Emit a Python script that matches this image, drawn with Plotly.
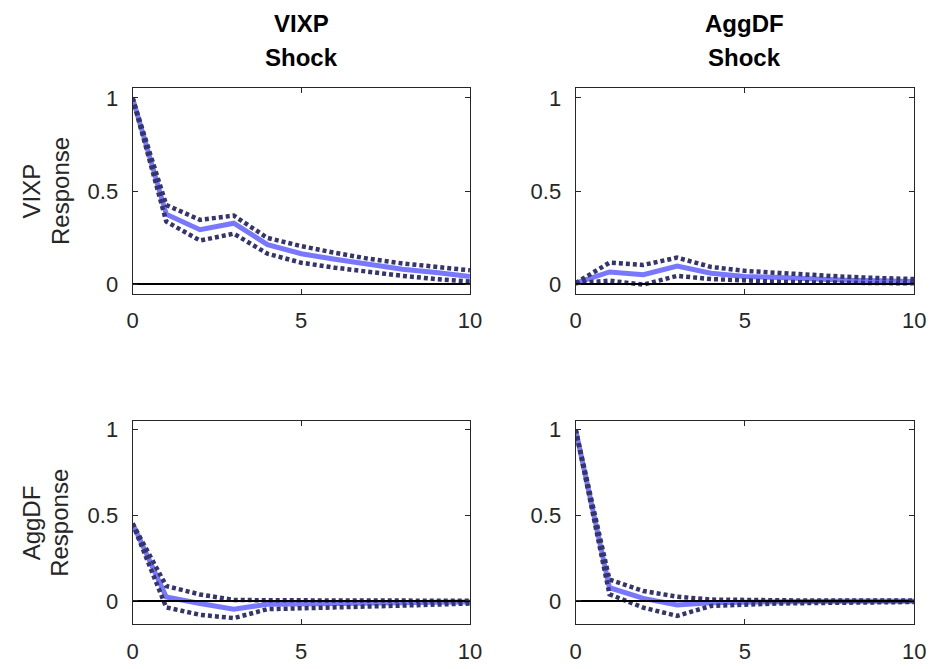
import plotly.graph_objects as go

# Impulse-response horizons
horizon = list(range(11))

shock_names = ["VIXP", "AggDF"]
response_names = ["VIXP", "AggDF"]

# Point estimates and confidence bands, indexed as [response][shock]
irf_vixp_vixp = [1.0, 0.375, 0.292, 0.327, 0.212, 0.163, 0.133, 0.106, 0.080, 0.062, 0.041]
upper_vixp_vixp = [1.0, 0.425, 0.345, 0.368, 0.248, 0.204, 0.168, 0.136, 0.111, 0.092, 0.074]
lower_vixp_vixp = [1.0, 0.336, 0.234, 0.271, 0.163, 0.115, 0.088, 0.065, 0.044, 0.027, 0.014]

irf_vixp_aggdf = [0.005, 0.065, 0.050, 0.097, 0.058, 0.041, 0.035, 0.027, 0.021, 0.018, 0.014]
upper_vixp_aggdf = [0.005, 0.115, 0.103, 0.142, 0.092, 0.071, 0.060, 0.048, 0.039, 0.032, 0.027]
lower_vixp_aggdf = [0.005, 0.018, -0.003, 0.044, 0.027, 0.018, 0.012, 0.009, 0.007, 0.005, 0.004]

irf_aggdf_vixp = [0.452, 0.023, -0.015, -0.048, -0.019, -0.015, -0.013, -0.012, -0.010, -0.008, -0.006]
upper_aggdf_vixp = [0.452, 0.087, 0.038, 0.006, 0.004, 0.003, 0.003, 0.002, 0.002, 0.001, 0.001]
lower_aggdf_vixp = [0.452, -0.038, -0.081, -0.100, -0.048, -0.044, -0.038, -0.033, -0.027, -0.021, -0.015]

irf_aggdf_aggdf = [1.0, 0.077, 0.015, -0.023, -0.010, -0.006, -0.004, -0.003, -0.002, -0.001, -0.001]
upper_aggdf_aggdf = [1.0, 0.125, 0.058, 0.025, 0.008, 0.004, 0.002, 0.002, 0.002, 0.002, 0.002]
lower_aggdf_aggdf = [1.0, 0.039, -0.039, -0.087, -0.029, -0.019, -0.015, -0.012, -0.010, -0.008, -0.006]

panels = [
    [(irf_vixp_vixp, upper_vixp_vixp, lower_vixp_vixp),
     (irf_vixp_aggdf, upper_vixp_aggdf, lower_vixp_aggdf)],
    [(irf_aggdf_vixp, upper_aggdf_vixp, lower_aggdf_vixp),
     (irf_aggdf_aggdf, upper_aggdf_aggdf, lower_aggdf_aggdf)],
]

y_ranges = [[-0.053, 1.053], [-0.137, 1.048]]
x_ticks = [0, 5, 10]
y_ticks = [0, 0.5, 1]
y_tick_text = ["0", "0.5", "1"]

W, H = 941, 669
col_px = [(129, 473), (580.7, 926)]
row_px = [(85, 293), (421.7, 627)]

IRF_COLOR = "#7878ff"
BAND_COLOR = "#34346e"
FONT = "Liberation Sans, Arial, Helvetica, sans-serif"
AXIS_COLOR = "#262626"

fig = go.Figure()
layout = dict(
    width=W, height=H,
    margin=dict(l=0, r=0, t=0, b=0),
    paper_bgcolor="white", plot_bgcolor="white",
    showlegend=False,
    font=dict(family=FONT, size=21, color="#262626"),
)

annotations = []
idx = 0
for r in range(2):
    for c in range(2):
        idx += 1
        xa = "x" if idx == 1 else f"x{idx}"
        ya = "y" if idx == 1 else f"y{idx}"
        irf, up, lo = panels[r][c]
        fig.add_trace(go.Scatter(x=horizon, y=irf, mode="lines", xaxis=xa, yaxis=ya,
                                 line=dict(color=IRF_COLOR, width=5)))
        for band in (up, lo):
            fig.add_trace(go.Scatter(x=horizon, y=band, mode="lines", xaxis=xa, yaxis=ya,
                                     line=dict(color=BAND_COLOR, width=4.5, dash="4px,3px")))
        fig.add_trace(go.Scatter(x=[horizon[0], horizon[-1]], y=[0, 0], mode="lines",
                                 xaxis=xa, yaxis=ya, line=dict(color="black", width=2)))

        x0, x1 = col_px[c]
        t0, t1 = row_px[r]
        axis_common = dict(showline=True, linecolor=AXIS_COLOR, linewidth=1, mirror="ticks",
                           ticks="inside", ticklen=5, tickwidth=1, tickcolor=AXIS_COLOR,
                           showgrid=False, zeroline=False,
                           tickfont=dict(family=FONT, size=22, color="#262626"))
        layout["xaxis" if idx == 1 else f"xaxis{idx}"] = dict(
            domain=[x0 / W, x1 / W], range=[0, 10], tickvals=x_ticks,
            anchor=ya, ticklabelstandoff=7, **axis_common)
        layout["yaxis" if idx == 1 else f"yaxis{idx}"] = dict(
            domain=[1 - t1 / H, 1 - t0 / H], range=y_ranges[r], tickvals=y_ticks,
            ticktext=y_tick_text, anchor=xa, ticklabelstandoff=9, **axis_common)

# Column headers: shock names
for c, name in enumerate(shock_names):
    cx = (col_px[c][0] + col_px[c][1]) / 2 / W
    for line, ypx in ((name, 20), ("Shock", 54)):
        annotations.append(dict(text=f"<b>{line}</b>", x=cx, y=1 - ypx / H, xref="paper",
                                yref="paper", showarrow=False, xanchor="center", yanchor="middle",
                                font=dict(family=FONT, size=24, color="black")))

# Row labels: response names
for r, name in enumerate(response_names):
    cy = 1 - (row_px[r][0] + row_px[r][1]) / 2 / H
    for line, xpx in ((name, 26), ("Response", 55)):
        annotations.append(dict(text=line, x=xpx / W, y=cy, xref="paper", yref="paper",
                                showarrow=False, textangle=-90, xanchor="center",
                                yanchor="middle",
                                font=dict(family=FONT, size=24, color="#262626")))

layout["annotations"] = annotations
fig.update_layout(**layout)
fig.write_html("out.html")
